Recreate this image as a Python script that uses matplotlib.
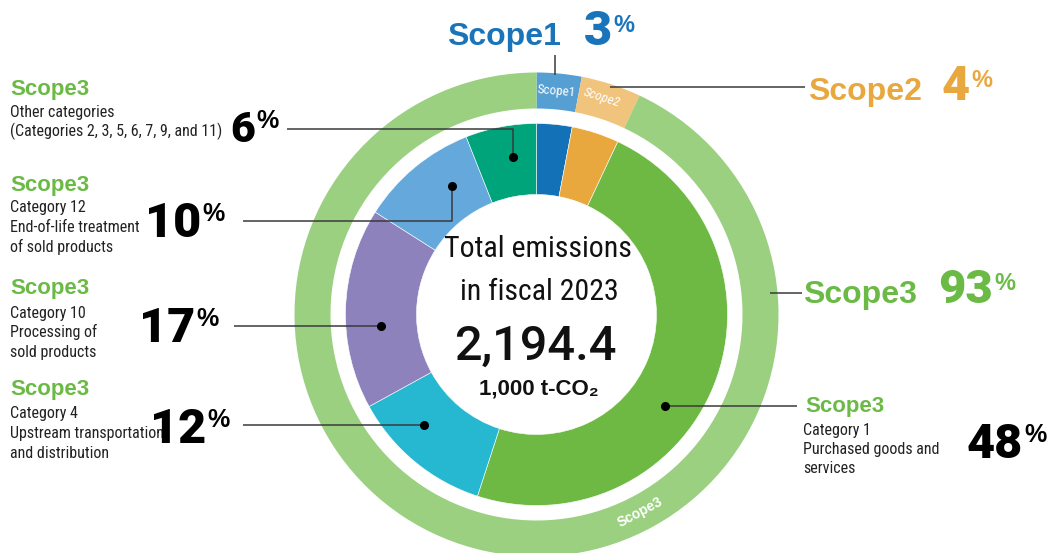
import numpy as np
from matplotlib import pyplot as plt
import logging

logging.getLogger("matplotlib.font_manager").setLevel(logging.ERROR)

# outer ring: share by scope
scope_names = ["Scope1", "Scope2", "Scope3"]
scope_shares = [3, 4, 93]
scope_colors = ["#559fd2", "#f0c47c", "#9bd080"]

# inner ring: share by scope / category
category_names = ["Scope1", "Scope2", "Category 1", "Category 4", "Category 10", "Category 12", "Other categories"]
category_shares = [3, 4, 48, 12, 17, 10, 6]
category_colors = ["#1371b7", "#e8a83e", "#6eb943", "#27b8d1", "#8e82bd", "#65a9dc", "#00a47b"]

total_emissions = "2,194.4"

GREEN = "#6aba45"
BLUE = "#1a74b9"
ORANGE = "#e8a83e"
LINE = "#3a3a3a"

NARROW = ["Roboto Condensed", "Archivo Narrow", "IBM Plex Sans Condensed", "Liberation Sans", "DejaVu Sans"]
BOLD = ["Liberation Sans", "DejaVu Sans"]
HEAVY = ["Roboto", "Liberation Sans", "DejaVu Sans"]

W, H = 1049, 553
fig = plt.figure(figsize=(W / 100, H / 100), dpi=100)
ax = fig.add_axes([0, 0, 1, 1])

cx, cy = 536.5, 314.5

# y axis is inverted (image coords), so startangle=-90 + counterclock draws clockwise from the top
ax.pie(scope_shares, colors=scope_colors, radius=242, center=(cx, cy), startangle=-90,
       counterclock=True, wedgeprops=dict(width=36, edgecolor="none"), frame=True)
ax.pie(category_shares, colors=category_colors, radius=191, center=(cx, cy), startangle=-90,
       counterclock=True, wedgeprops=dict(width=71, edgecolor="white", linewidth=0.4), frame=True)

ax.set_xlim(0, W)
ax.set_ylim(H, 0)
ax.set_aspect("equal")
ax.axis("off")


def pct(x_right, y, num, size, color="black", pct_size=None, pct_dy=None, weight=900, fam=HEAVY):
    ax.text(x_right, y, num, ha="right", va="baseline", fontsize=size, fontweight=weight,
            family=fam, color=color)
    ps = pct_size or size * 0.55
    dy = pct_dy if pct_dy is not None else size * 0.62
    ax.text(x_right + 1, y - dy, "%", ha="left", va="baseline", fontsize=ps,
            fontweight="bold", family=BOLD, color=color)


def leader(xs, ys, dot=True):
    ax.plot(xs, ys, color=LINE, lw=1.1, solid_capstyle="butt")
    if dot:
        ax.plot(xs[-1], ys[-1], "o", color="black", ms=5.5)


# labels inside the outer ring
ax.text(556, 91, "Scope1", ha="center", va="center", fontsize=9.5, family=NARROW,
        color="white", rotation=-5)
ax.text(602, 98, "Scope2", ha="center", va="center", fontsize=9.5, family=NARROW,
        color="white", rotation=-18, style="italic")
ax.text(640, 512, "Scope3", ha="center", va="center", fontsize=10, fontweight="bold",
        family=BOLD, color="white", rotation=28)

# Scope1 / Scope2 / Scope3 totals
ax.text(447, 45, scope_names[0], ha="left", va="baseline", fontsize=23, fontweight="bold",
        family=BOLD, color=BLUE)
pct(612, 45, str(scope_shares[0]), 35, BLUE, 17, 13)
leader([555, 555], [55, 75], dot=False)

ax.text(808, 100, scope_names[1], ha="left", va="baseline", fontsize=23, fontweight="bold",
        family=BOLD, color=ORANGE)
pct(970, 100, str(scope_shares[1]), 35, ORANGE, 17, 13)
leader([610, 805], [87, 87], dot=False)

ax.text(803, 303, scope_names[2], ha="left", va="baseline", fontsize=23, fontweight="bold",
        family=BOLD, color=GREEN)
pct(993, 303, str(scope_shares[2]), 34, GREEN, 17, 13)
leader([770, 802], [293, 293], dot=False)

# left side category blocks
left_blocks = [
    (95, ["Other categories", "(Categories 2, 3, 5, 6, 7, 9, and 11)"], [117, 136]),
    (191, ["Category 12", "End-of-life treatment", "of sold products"], [212, 232, 252]),
    (294, ["Category 10", "Processing of", "sold products"], [318, 337, 357]),
    (395, ["Category 4", "Upstream transportation", "and distribution"], [418, 438, 458]),
]
for yb, lines, ys in left_blocks:
    ax.text(10, yb, "Scope3", ha="left", va="baseline", fontsize=16, fontweight="bold",
            family=BOLD, color=GREEN)
    for t, yy in zip(lines, ys):
        ax.text(10, yy, t, ha="left", va="baseline", fontsize=11.5, family=NARROW, color="#222222")

pct(255, 142, str(category_shares[6]), 31, pct_size=18, pct_dy=14)
leader([287, 513, 513], [129, 129, 157])

pct(201, 237, str(category_shares[5]), 35, pct_size=18, pct_dy=16)
leader([243, 452, 452], [221, 221, 186])

pct(195, 342, str(category_shares[4]), 35, pct_size=18, pct_dy=16)
leader([234, 381], [326, 326])

pct(206, 443, str(category_shares[3]), 35, pct_size=18, pct_dy=16)
leader([243, 424], [425, 425])

# right side: category 1
ax.text(805, 412, "Scope3", ha="left", va="baseline", fontsize=16, fontweight="bold",
        family=BOLD, color=GREEN)
for t, yy in zip(["Category 1", "Purchased goods and", "services"], [435, 454, 473]):
    ax.text(803, yy, t, ha="left", va="baseline", fontsize=11.5, family=NARROW, color="#222222")
pct(1023, 458, str(category_shares[2]), 35, pct_size=18, pct_dy=16)
leader([797, 665], [406, 406])

# centre text
ax.text(cx + 1, 257, "Total emissions", ha="center", va="baseline", fontsize=21.5,
        family=NARROW, color="#111111")
ax.text(cx + 3, 300, "in fiscal 2023", ha="center", va="baseline", fontsize=21.5,
        family=NARROW, color="#111111")
ax.text(cx - 1, 360, total_emissions, ha="center", va="baseline", fontsize=35,
        fontweight=500, family=HEAVY, color="#111111")
ax.text(cx + 2, 394, "1,000 t-CO₂", ha="center", va="baseline", fontsize=16,
        fontweight="bold", family=BOLD, color="#111111")

fig.savefig("out.png", dpi=100)
